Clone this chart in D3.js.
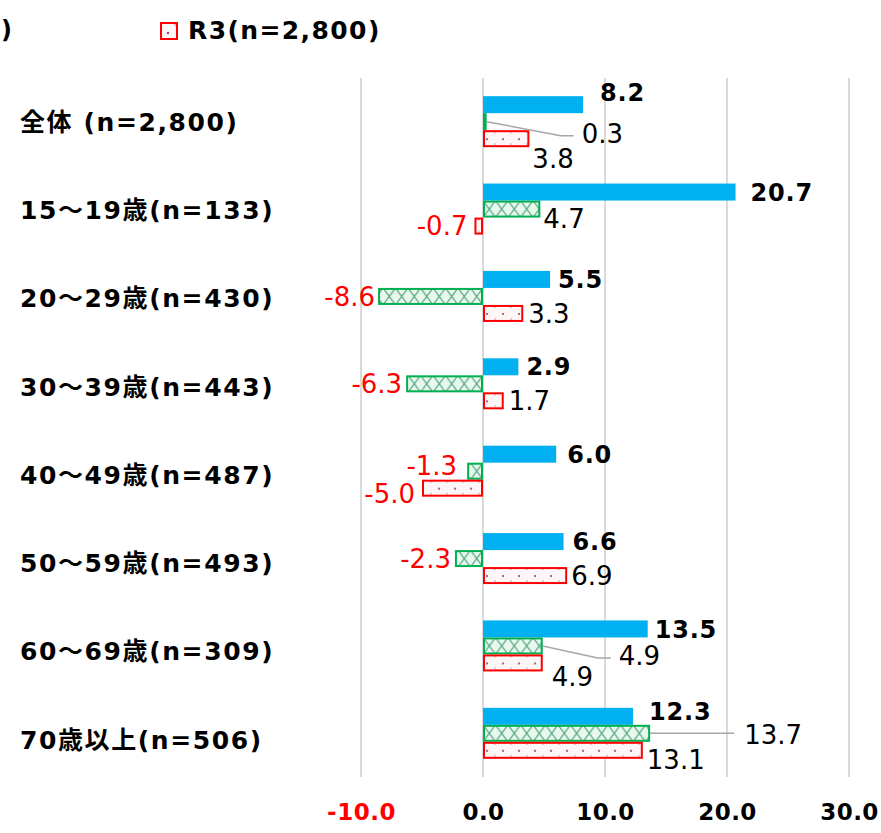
<!DOCTYPE html>
<html>
<head>
<meta charset="utf-8">
<script src="https://cdn.jsdelivr.net/npm/d3@7"></script>
<style>
  body { margin: 0; background: #fff; }
  svg { display: block; font-family: "DejaVu Sans", "Noto Sans CJK JP", sans-serif; }
</style>
</head>
<body>
<svg id="chart"></svg>
<script>
const categories = [
  '全体 (n=2,800)', '15〜19歳(n=133)', '20〜29歳(n=430)', '30〜39歳(n=443)',
  '40〜49歳(n=487)', '50〜59歳(n=493)', '60〜69歳(n=309)', '70歳以上(n=506)'
];
const seriesBlue = [8.2, 20.7, 5.5, 2.9, 6.0, 6.6, 13.5, 12.3];
const seriesGreen = [0.3, 4.7, -8.6, -6.3, -1.3, -2.3, 4.9, 13.7];
const seriesR3 = [3.8, -0.7, 3.3, 1.7, -5.0, 6.9, 4.9, 13.1];
const tickValues = [-10, 0, 10, 20, 30];
const legendLabel = 'R3(n=2,800)';

// label nudges [dx, dy] in px, from the bar end / bar centre
const nudgeBlue = [[17, -12], [15, 0], [8, 0], [8, 0], [11, 0], [9, 0], [7, 0], [16, -5]];
const nudgeGreen = [[95, 12], [3, 10], [3, 0], [4, 0], [10, -6], [4, 0], [76, 10], [94, 1]];
const nudgeR3 = [[3, 20], [7, 0], [5, 0], [5, 0], [7, 5], [4, 0], [9, 14], [4, 9]];
const leaderGreen = [true, false, false, false, false, false, true, true];

// plain hyphen minus like the source, not d3's U+2212
const fmt = v => v.toFixed(1);

function renderChart(svg) {
  svg = d3.select(svg).attr('width', 881).attr('height', 833);

  let x = d3.scaleLinear().domain([-10, 30]).range([361, 849]);
  let y = d3.scaleBand().domain(categories).range([78, 777]);
  // category text sits on a slightly looser spacing than the bars
  let yLabel = d3.scaleBand().domain(categories).range([78, 784]);
  let sub = d3.scaleBand().domain(['blue', 'green', 'r3']).range([0, 51]);
  let off = (y.bandwidth() - 51) / 2;

  let defs = svg.append('defs');

  // per-row patterns so the fill lines up with each bar
  categories.forEach((c, i) => {
    let gy = y(c) + off + sub('green');
    let gp = defs.append('pattern')
      .attr('id', 'pgreen' + i)
      .attr('patternUnits', 'userSpaceOnUse')
      .attr('x', x(0)).attr('y', gy)
      .attr('width', 12.5).attr('height', sub.bandwidth());
    gp.append('rect').attr('width', 12.5).attr('height', sub.bandwidth()).attr('fill', '#e9f8ef');
    gp.append('path')
      .attr('d', `M0,0 L12.5,${sub.bandwidth()} M12.5,0 L0,${sub.bandwidth()}`)
      .attr('stroke', '#4aa278').attr('stroke-width', 1.1).attr('fill', 'none');

    let ry = y(c) + off + sub('r3');
    let rp = defs.append('pattern')
      .attr('id', 'pred' + i)
      .attr('patternUnits', 'userSpaceOnUse')
      .attr('x', x(0)).attr('y', ry)
      .attr('width', 16).attr('height', sub.bandwidth());
    rp.append('rect').attr('width', 16).attr('height', sub.bandwidth()).attr('fill', '#fdf6f7');
    rp.append('circle').attr('cx', 4).attr('cy', 9).attr('r', 1.1).attr('fill', '#a0406a');
    rp.append('circle').attr('cx', 12).attr('cy', 2).attr('r', 0.8).attr('fill', '#c07090');
    rp.append('circle').attr('cx', 12).attr('cy', 14).attr('r', 0.7).attr('fill', '#c07090');
  });

  let lp = defs.append('pattern')
    .attr('id', 'plegend')
    .attr('patternUnits', 'userSpaceOnUse')
    .attr('x', 160).attr('y', 22).attr('width', 18).attr('height', 18);
  lp.append('rect').attr('width', 18).attr('height', 18).attr('fill', '#fdf6f7');
  lp.append('circle').attr('cx', 8).attr('cy', 11).attr('r', 1.2).attr('fill', '#a0406a');
  lp.append('circle').attr('cx', 15).attr('cy', 3).attr('r', 0.8).attr('fill', '#c07090');

  // gridlines
  svg.append('g')
    .selectAll('line')
    .data(tickValues)
    .enter()
    .append('line')
    .attr('x1', d => x(d)).attr('x2', d => x(d))
    .attr('y1', 78).attr('y2', 777)
    .attr('stroke', '#d9d9d9').attr('stroke-width', 2);

  // axis labels
  let axis = svg.append('g')
    .attr('transform', 'translate(0,777)')
    .call(d3.axisBottom(x).tickValues(tickValues).tickFormat(fmt).tickSize(0).tickPadding(27));
  axis.select('.domain').remove();
  axis.selectAll('text')
    .attr('font-family', '"DejaVu Sans", sans-serif')
    .attr('font-size', 23)
    .attr('font-weight', 'bold')
    .attr('letter-spacing', 0.5)
    .attr('fill', d => (d < 0 ? '#ff0000' : '#000'));

  // category labels
  svg.append('g')
    .selectAll('text')
    .data(categories)
    .enter()
    .append('text')
    .attr('x', 20)
    .attr('y', d => yLabel(d) + yLabel.bandwidth() / 2)
    .attr('dy', '0.35em')
    .attr('font-size', 25)
    .attr('font-weight', 'bold')
    .attr('letter-spacing', 1.6)
    .text(d => d);

  let barX = v => x(Math.min(0, v));
  let barW = v => Math.abs(x(v) - x(0));

  let series = [
    { key: 'blue', values: seriesBlue, nudge: nudgeBlue },
    { key: 'green', values: seriesGreen, nudge: nudgeGreen },
    { key: 'r3', values: seriesR3, nudge: nudgeR3 },
  ];

  series.forEach(s => {
    let g = svg.append('g').attr('class', 'bars-' + s.key);
    g.selectAll('rect')
      .data(s.values)
      .enter()
      .append('rect')
      .attr('x', d => barX(d) + (s.key === 'blue' ? 0 : 1))
      .attr('y', (d, i) => y(categories[i]) + off + sub(s.key) + (s.key === 'blue' ? 0 : 1))
      .attr('width', d => Math.max(0, barW(d) - (s.key === 'blue' ? 0 : 2)))
      .attr('height', sub.bandwidth() - (s.key === 'blue' ? 0 : 2))
      .attr('fill', (d, i) =>
        s.key === 'blue' ? '#00b0f0' : s.key === 'green' ? `url(#pgreen${i})` : `url(#pred${i})`
      )
      .attr('stroke', s.key === 'blue' ? 'none' : s.key === 'green' ? '#00b050' : '#ff0000')
      .attr('stroke-width', 2);
  });

  // leader lines for moved green labels
  svg.append('g')
    .selectAll('path')
    .data(seriesGreen.map((v, i) => ({ v, i })).filter(d => leaderGreen[d.i]))
    .enter()
    .append('path')
    .attr('fill', 'none')
    .attr('stroke', '#a6a6a6')
    .attr('stroke-width', 1.5)
    .attr('d', d => {
      let x0 = x(d.v);
      let y0 = y(categories[d.i]) + off + sub('green') + sub.bandwidth() / 2;
      let tx = x0 + nudgeGreen[d.i][0];
      let ty = y0 + nudgeGreen[d.i][1] + 2;
      if (Math.abs(ty - y0) < 4) return `M${x0},${y0} L${tx - 10},${y0}`;
      return `M${x0},${y0} L${tx - 21},${ty} L${tx - 8},${ty}`;
    });

  // value labels
  series.forEach(s => {
    svg.append('g')
      .selectAll('text')
      .data(s.values)
      .enter()
      .append('text')
      .attr('x', (d, i) => (d < 0 ? x(d) - s.nudge[i][0] : x(d) + s.nudge[i][0]))
      .attr('y', (d, i) => y(categories[i]) + off + sub(s.key) + sub.bandwidth() / 2 + s.nudge[i][1])
      .attr('dy', '0.36em')
      .attr('text-anchor', d => (d < 0 ? 'end' : 'start'))
      .attr('font-family', '"DejaVu Sans", sans-serif')
      .attr('font-size', s.key === 'blue' ? 24 : 26)
      .attr('font-weight', s.key === 'blue' ? 'bold' : 'normal')
      .attr('letter-spacing', s.key === 'blue' ? 0.8 : 0)
      .attr('fill', d => (d < 0 ? '#ff0000' : '#000'))
      .text(fmt);
  });

  // legend (clipped on the left in the source)
  let legend = svg.append('g');
  legend.append('text')
    .attr('x', 1).attr('y', 30).attr('dy', '0.35em')
    .attr('font-size', 24).attr('font-weight', 'bold')
    .text(')');
  legend.append('rect')
    .attr('x', 161).attr('y', 23).attr('width', 16).attr('height', 16)
    .attr('fill', 'url(#plegend)')
    .attr('stroke', '#ff0000').attr('stroke-width', 2);
  legend.append('text')
    .attr('x', 188).attr('y', 30).attr('dy', '0.35em')
    .attr('font-size', 25).attr('font-weight', 'bold').attr('letter-spacing', 1.4)
    .text(legendLabel);
}

renderChart(document.getElementById('chart'));
</script>
</body>
</html>
